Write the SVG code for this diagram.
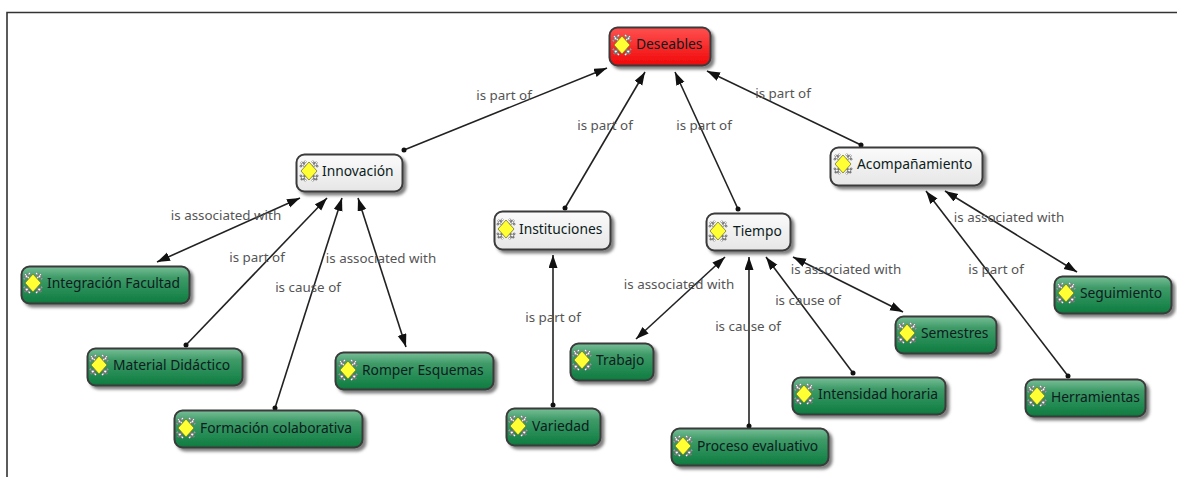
<svg xmlns="http://www.w3.org/2000/svg" width="1177" height="477" viewBox="0 0 1177 477">
<style>
text{font-family:"Noto Sans","DejaVu Sans",sans-serif}
.l{font-size:13.4px;fill:#555;text-anchor:middle}
.t{font-size:13.8px;fill:#0c1c20}
.b{stroke:#3a3a3a;stroke-width:2}
.g{fill:url(#gg)}.w{fill:url(#gw)}.r{fill:url(#gr)}
.c line{stroke:#222;stroke-width:1.6;fill:none}
</style>
<defs>
<linearGradient id="gg" x1="0" y1="0" x2="0" y2="1"><stop offset="0" stop-color="#78bf98"/><stop offset=".3" stop-color="#3f9b68"/><stop offset=".7" stop-color="#228a52"/><stop offset="1" stop-color="#0c7a3e"/></linearGradient>
<linearGradient id="gw" x1="0" y1="0" x2="0" y2="1"><stop offset="0" stop-color="#fbfbfb"/><stop offset="1" stop-color="#e6e6e6"/></linearGradient>
<linearGradient id="gr" x1="0" y1="0" x2="0" y2="1"><stop offset="0" stop-color="#ff5050"/><stop offset="1" stop-color="#f00808"/></linearGradient>
<filter id="s" x="-10%" y="-20%" width="125%" height="150%"><feDropShadow dx="3" dy="3" stdDeviation="1.6" flood-color="#000" flood-opacity=".5"/></filter>
<marker id="a" markerWidth="15" markerHeight="10" refX="13" refY="4.500" orient="auto-start-reverse" markerUnits="userSpaceOnUse"><path d="M0 0L13 4.500L0 9z" fill="#111"/></marker>
<marker id="d" markerWidth="6" markerHeight="6" refX="3" refY="3" markerUnits="userSpaceOnUse"><circle cx="3" cy="3" r="2.500" fill="#111"/></marker>
<g id="i">
<path d="M-8-9L8 9M8-9L-8 9M-3-10L-9-4M3-10L9-4M-3 10L-9 4M3 10L9 4" stroke="#777" stroke-width="2.400" fill="none"/>
<path d="M-8-9L8 9M8-9L-8 9M-3-10L-9-4M3-10L9-4M-3 10L-9 4M3 10L9 4" stroke="#fff" stroke-width="1.100" fill="none" stroke-dasharray="2 2"/>
<path d="M0-9L8 0L0 9L-8 0z" fill="#ffff33" stroke="#77772a" stroke-width=".8"/>
</g>
</defs>
<rect width="1177" height="477" fill="#fff"/>
<path d="M7 477V12.500H1177" fill="none" stroke="#333" stroke-width="1.600"/>
<g class="c" id="connectors">
<line x1="404" y1="150" x2="607" y2="68" marker-start="url(#d)" marker-end="url(#a)"/>
<line x1="565" y1="208" x2="645" y2="72" marker-start="url(#d)" marker-end="url(#a)"/>
<line x1="738" y1="209" x2="675" y2="72" marker-start="url(#d)" marker-end="url(#a)"/>
<line x1="861" y1="145" x2="707" y2="71" marker-start="url(#d)" marker-end="url(#a)"/>
<line x1="157" y1="262" x2="300" y2="198" marker-start="url(#a)" marker-end="url(#a)"/>
<line x1="186" y1="345" x2="327" y2="198" marker-start="url(#d)" marker-end="url(#a)"/>
<line x1="275" y1="408" x2="342" y2="198" marker-start="url(#d)" marker-end="url(#a)"/>
<line x1="406" y1="347" x2="358" y2="198" marker-start="url(#a)" marker-end="url(#a)"/>
<line x1="553" y1="405" x2="553" y2="255" marker-start="url(#d)" marker-end="url(#a)"/>
<line x1="636" y1="339" x2="725" y2="257" marker-start="url(#a)" marker-end="url(#a)"/>
<line x1="749" y1="426" x2="749" y2="257" marker-start="url(#d)" marker-end="url(#a)"/>
<line x1="853" y1="373" x2="766" y2="257" marker-start="url(#d)" marker-end="url(#a)"/>
<line x1="903" y1="312" x2="793" y2="257" marker-start="url(#a)" marker-end="url(#a)"/>
<line x1="1068" y1="376" x2="926" y2="191" marker-start="url(#d)" marker-end="url(#a)"/>
<line x1="1077" y1="272" x2="945" y2="191" marker-start="url(#a)" marker-end="url(#a)"/>
</g>
<g id="labels">
<text class="l" x="504" y="100">is part of</text>
<text class="l" x="605" y="130">is part of</text>
<text class="l" x="704" y="130">is part of</text>
<text class="l" x="783" y="98">is part of</text>
<text class="l" x="226" y="220">is associated with</text>
<text class="l" x="257" y="262">is part of</text>
<text class="l" x="308" y="292">is cause of</text>
<text class="l" x="381" y="263">is associated with</text>
<text class="l" x="553" y="322">is part of</text>
<text class="l" x="679" y="289">is associated with</text>
<text class="l" x="748" y="331">is cause of</text>
<text class="l" x="808" y="305">is cause of</text>
<text class="l" x="846" y="274">is associated with</text>
<text class="l" x="1009" y="222">is associated with</text>
<text class="l" x="996" y="274">is part of</text>
</g>
<g id="n-deseables"><rect class="b r" x="609.500" y="27.500" width="101" height="38" rx="8" filter="url(#s)"/><use href="#i" x="622" y="45"/><text class="t" x="636" y="49">Deseables</text></g>
<g id="n-innovacion"><rect class="b w" x="296.500" y="154.500" width="106" height="37" rx="8" filter="url(#s)"/><use href="#i" x="309" y="171"/><text class="t" x="322" y="176">Innovación</text></g>
<g id="n-instituciones"><rect class="b w" x="494.500" y="211.500" width="116" height="38" rx="8" filter="url(#s)"/><use href="#i" x="506" y="229"/><text class="t" x="519" y="234">Instituciones</text></g>
<g id="n-tiempo"><rect class="b w" x="706.500" y="213.500" width="84" height="37" rx="8" filter="url(#s)"/><use href="#i" x="718" y="231"/><text class="t" x="733" y="236">Tiempo</text></g>
<g id="n-acompanamiento"><rect class="b w" x="830.500" y="147.500" width="152" height="38" rx="8" filter="url(#s)"/><use href="#i" x="843" y="164"/><text class="t" x="857" y="169">Acompañamiento</text></g>
<g id="n-integracion"><rect class="b g" x="21.500" y="266.500" width="168" height="37" rx="8" filter="url(#s)"/><use href="#i" x="33" y="283"/><text class="t" x="47" y="288">Integración Facultad</text></g>
<g id="n-material"><rect class="b g" x="87.500" y="348.500" width="155" height="37" rx="8" filter="url(#s)"/><use href="#i" x="99" y="365"/><text class="t" x="113" y="370">Material Didáctico</text></g>
<g id="n-formacion"><rect class="b g" x="174.500" y="410.500" width="188" height="37" rx="8" filter="url(#s)"/><use href="#i" x="186" y="428"/><text class="t" x="200" y="433">Formación colaborativa</text></g>
<g id="n-romper"><rect class="b g" x="335.500" y="352.500" width="158" height="37" rx="8" filter="url(#s)"/><use href="#i" x="348" y="370"/><text class="t" x="362" y="375">Romper Esquemas</text></g>
<g id="n-variedad"><rect class="b g" x="506.500" y="408.500" width="94" height="37" rx="8" filter="url(#s)"/><use href="#i" x="518" y="426"/><text class="t" x="532" y="431">Variedad</text></g>
<g id="n-trabajo"><rect class="b g" x="570.500" y="343.500" width="83" height="37" rx="8" filter="url(#s)"/><use href="#i" x="582" y="360"/><text class="t" x="596" y="365">Trabajo</text></g>
<g id="n-proceso"><rect class="b g" x="671.500" y="428.500" width="157" height="37" rx="8" filter="url(#s)"/><use href="#i" x="683" y="446"/><text class="t" x="697" y="451">Proceso evaluativo</text></g>
<g id="n-intensidad"><rect class="b g" x="792.500" y="377.500" width="153" height="37" rx="8" filter="url(#s)"/><use href="#i" x="804" y="394"/><text class="t" x="818" y="399">Intensidad horaria</text></g>
<g id="n-semestres"><rect class="b g" x="895.500" y="316.500" width="101" height="37" rx="8" filter="url(#s)"/><use href="#i" x="907" y="333"/><text class="t" x="921" y="338">Semestres</text></g>
<g id="n-herramientas"><rect class="b g" x="1025.500" y="379.500" width="120" height="37" rx="8" filter="url(#s)"/><use href="#i" x="1037" y="396"/><text class="t" x="1051" y="402">Herramientas</text></g>
<g id="n-seguimiento"><rect class="b g" x="1054.500" y="276.500" width="117" height="37" rx="8" filter="url(#s)"/><use href="#i" x="1066" y="293"/><text class="t" x="1080" y="298">Seguimiento</text></g>
</svg>
